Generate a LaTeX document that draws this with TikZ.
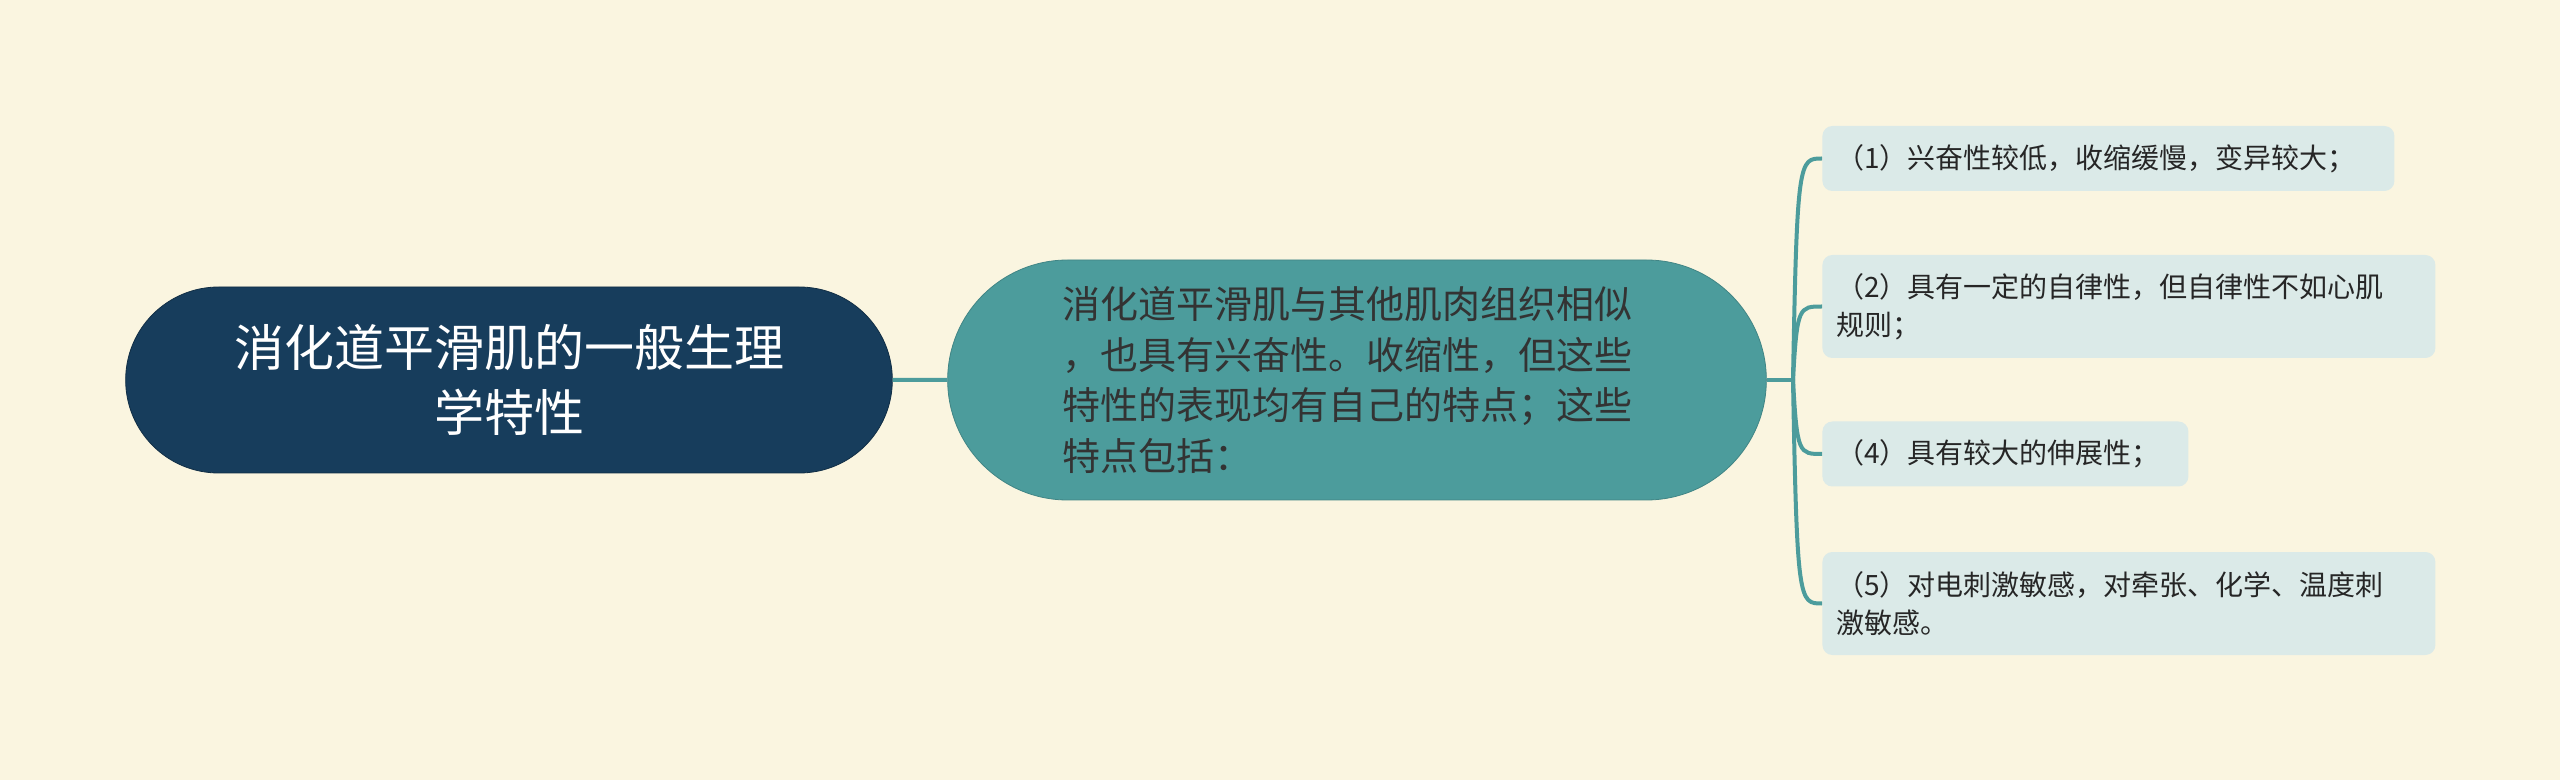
\documentclass[tikz,border=0pt]{standalone}
\usepackage{fontspec}
\setmainfont{Noto Sans CJK SC}
\usetikzlibrary{shapes.misc}
\definecolor{paper}{HTML}{FAF5E0}
\definecolor{navy}{HTML}{173D5C}
\definecolor{tealmid}{HTML}{4C9C9C}
\definecolor{leaf}{HTML}{DBEAE8}
\tikzset{
   root/.style={rounded rectangle, fill=navy, draw=navy!75!black, text=white,
      minimum width=390pt, minimum height=93pt, align=center,
      font=\fontsize{25}{32.5}\selectfont},
   topic/.style={rounded rectangle, fill=tealmid, draw=tealmid!85!black, text=black!80,
      minimum width=416pt, minimum height=120pt, text width=295pt, align=left,
      font=\fontsize{19}{25.3}\selectfont},
   leafbox/.style={rectangle, rounded corners=5pt, fill=leaf, anchor=west, text=black!85,
      inner xsep=7pt, align=left, font=\fontsize{14}{18.8}\selectfont},
   link/.style={draw=tealmid, line width=2pt}
}
\begin{document}
\begin{tikzpicture}[x=0.5pt, y=-0.5pt]
      \fill[paper] (0,0) rectangle (2560,780);
      \useasboundingbox (0,0) rectangle (2560,780);
      \node[root] (root) at (509,380) {消化道平滑肌的一般生理\\学特性};
      \node[topic] (mid) at (1357,380) {消化道平滑肌与其他肌肉组织相似\\，也具有兴奋性。收缩性，但这些\\特性的表现均有自己的特点；这些\\特点包括：};
      \def \Leaves {
         n1/158.5/272/32.5/{（1）兴奋性较低，收缩缓慢，变异较大；},
         n2/306.5/292.5/51.5/{（2）具有一定的自律性，但自律性不如心肌\\规则；},
         n4/454/169/32.5/{（4）具有较大的伸展性；},
         n5/603.5/292.5/51.5/{（5）对电刺激敏感，对牵张、化学、温度刺\\激敏感。}}
      \foreach \u / \y / \w / \h / \t in \Leaves {
         \node[leafbox, text width=\w pt, minimum height=\h pt] (\u) at (1822,\y) {\t};
      }
      \coordinate (fork) at (1793,380);
      \path[link] (root) -- (mid);
      \path[link] (mid.east) -- (fork);
      \foreach \u / \y / \w / \h / \t in \Leaves {
         \path[link] (fork) .. controls (1797,\y) and (1799,\y) .. (\u.west);
      }
   \end{tikzpicture}
\end{document}
